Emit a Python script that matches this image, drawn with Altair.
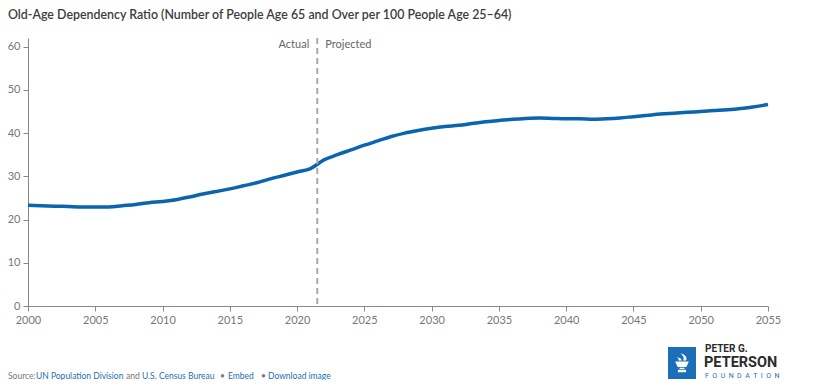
import altair as alt
import pandas as pd

# ---- data ----
years = list(range(2000, 2056))
ratio = [
    23.3, 23.2, 23.1, 23.0, 22.9, 22.9, 22.9, 23.2, 23.5, 23.9,   # 2000-2009
    24.2, 24.6, 25.2, 25.9, 26.5, 27.1, 27.8, 28.5, 29.4, 30.2,   # 2010-2019
    31.0, 31.8, 33.8, 35.0, 36.1, 37.2, 38.2, 39.2, 40.0, 40.6,   # 2020-2029
    41.1, 41.5, 41.8, 42.2, 42.6, 42.9, 43.2, 43.4, 43.5, 43.4,   # 2030-2039
    43.3, 43.3, 43.2, 43.3, 43.5, 43.8, 44.1, 44.4, 44.6, 44.8,   # 2040-2049
    45.0, 45.2, 45.4, 45.7, 46.1, 46.6,                           # 2050-2055
]
x_ticks = list(range(2000, 2056, 5))
y_ticks = [0, 10, 20, 30, 40, 50, 60]
divider_year = 2021.5
title_text = "Old-Age Dependency Ratio (Number of People Age 65 and Over per 100 People Age 25\u201364)"
footer_parts = [
    ("Source:", "#777777"),
    ("UN Population Division", "#1a6fb5"),
    ("and", "#777777"),
    ("U.S. Census Bureau", "#1a6fb5"),
    ("\u2022", "#777777"),
    ("Embed", "#1a6fb5"),
    ("\u2022", "#777777"),
    ("Download image", "#1a6fb5"),
]
footer_x = [-20, 8, 98, 114, 192, 200, 233, 240]

df = pd.DataFrame({"year": years, "ratio": ratio})
one = pd.DataFrame({"k": [0]})

FONT = "Lato"
W, H = 740, 268

x_enc = alt.X("year:Q", scale=alt.Scale(domain=[2000, 2055], nice=False, zero=False),
              axis=alt.Axis(values=x_ticks, format="d", title=None, grid=False,
                            labelFlush=False))
y_enc = alt.Y("ratio:Q", scale=alt.Scale(domain=[0, 62], nice=False),
              axis=alt.Axis(values=y_ticks, title=None, grid=False))

line = alt.Chart(df).mark_line(color="#0a64b0", strokeWidth=3.5,
                               interpolate="monotone").encode(x=x_enc, y=y_enc)

rule = alt.Chart(one).mark_rule(color="#aaaaaa", strokeWidth=2,
                                strokeDash=[6, 4]).encode(
    x=alt.datum(divider_year), y=alt.value(0), y2=alt.value(H))

lab_actual = alt.Chart(one).mark_text(text="Actual", align="right", baseline="middle",
                                      dx=-8, font=FONT, fontSize=11,
                                      color="#666666").encode(
    x=alt.datum(divider_year), y=alt.value(7))
lab_proj = alt.Chart(one).mark_text(text="Projected", align="left", baseline="middle",
                                    dx=8, font=FONT, fontSize=11,
                                    color="#666666").encode(
    x=alt.datum(divider_year), y=alt.value(7))

title = alt.Chart(one).mark_text(text=title_text, align="left", baseline="middle",
                                 font=FONT, fontSize=12.4, fontWeight=600,
                                 color="#3d3d3d").encode(
    x=alt.value(-20), y=alt.value(-23))

footer = []
for (txt, col), fx in zip(footer_parts, footer_x):
    footer.append(alt.Chart(one).mark_text(text=txt, align="left", baseline="middle",
                                           font=FONT, fontSize=8.5, color=col).encode(
        x=alt.value(fx), y=alt.value(338)))

logo_box = alt.Chart(one).mark_rect(color="#1b6fb8").encode(
    x=alt.value(640), x2=alt.value(668), y=alt.value(309), y2=alt.value(341))

torch_path = ("M -0.15 -1 C 0.45 -0.8 0.55 -0.5 0.4 -0.25 L 0.12 -0.25 "
              "C 0.25 -0.5 0.15 -0.72 -0.15 -1 Z "
              "M -0.55 -0.62 C -0.12 -0.5 0.0 -0.38 -0.05 -0.25 L -0.35 -0.25 "
              "C -0.3 -0.42 -0.42 -0.52 -0.55 -0.62 Z "
              "M -0.7 -0.15 L 0.7 -0.15 L 0.45 0.42 L -0.45 0.42 Z "
              "M -0.25 0.48 L 0.25 0.48 L 0.25 0.62 L -0.25 0.62 Z "
              "M -0.42 0.7 L 0.42 0.7 L 0.42 0.95 L -0.42 0.95 Z")
torch = alt.Chart(one).mark_point(shape=torch_path, filled=True, color="white",
                                  opacity=1, size=380, strokeWidth=0).encode(
    x=alt.value(654), y=alt.value(325))

logo_t1 = alt.Chart(one).mark_text(text="PETER G.", align="left", baseline="middle",
                                   font="Roboto", fontSize=10, fontWeight="bold",
                                   color="#2b2b2b").encode(
    x=alt.value(677), y=alt.value(311))
logo_t2 = alt.Chart(one).mark_text(text="PETERSON", align="left", baseline="middle",
                                   font="Roboto", fontSize=14.5, fontWeight="bold",
                                   color="#2b2b2b").encode(
    x=alt.value(676), y=alt.value(325))
nb = "\u00a0\u00a0"
logo_t3 = alt.Chart(one).mark_text(text=nb.join("FOUNDATION"), align="left",
                                   baseline="middle", font="Roboto", fontSize=7,
                                   color="#1b6fb8").encode(
    x=alt.value(677), y=alt.value(338))

chart = alt.layer(
    line, rule, lab_actual, lab_proj, title, *footer,
    logo_box, torch, logo_t1, logo_t2, logo_t3,
).properties(
    width=W, height=H,
    autosize=alt.AutoSizeParams(type="none"),
    padding={"left": 20, "top": 30, "right": 54, "bottom": 74},
).configure_view(strokeWidth=0).configure_axis(
    domainColor="#888888", tickColor="#888888", tickSize=5,
    labelColor="#777777", labelFont=FONT, labelFontSize=11, labelPadding=3,
)

chart.save("out.html", embed_options={"renderer": "svg", "actions": False})
